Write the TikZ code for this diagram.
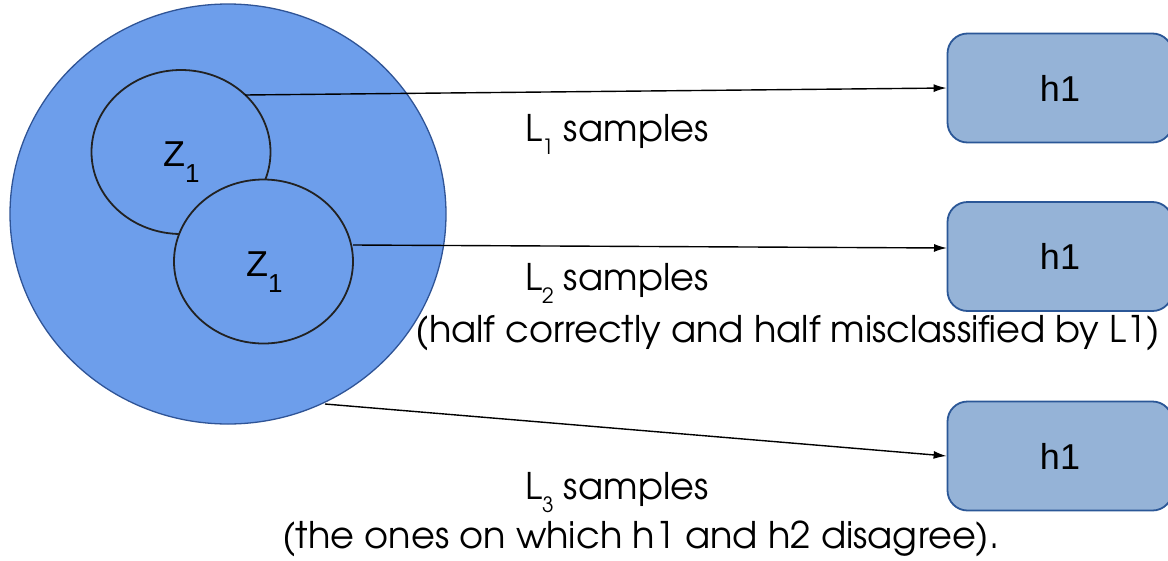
\documentclass[tikz,border=0pt]{standalone}
\usepackage{fontspec}
\setmainfont{Liberation Sans}
\newfontfamily\gothicfont{texgyreadventor-regular.otf}
\usetikzlibrary{arrows.meta,shapes.geometric}
\definecolor{circfill}{HTML}{6D9EEB}
\definecolor{circborder}{HTML}{2F5496}
\definecolor{zline}{HTML}{222222}
\definecolor{boxfill}{HTML}{95B3D7}
\definecolor{boxborder}{HTML}{2B5797}
\newcommand\lsub[1]{\raisebox{-13pt}{\fontsize{21}{21}\selectfont #1}}
\begin{document}
\begin{tikzpicture}[x=1pt,y=-1pt,
  bigcirc/.style={ellipse, draw=circborder, fill=circfill, line width=1.3pt, minimum width=436pt, minimum height=420pt, inner sep=0pt},
  zell/.style={ellipse, draw=zline, fill=circfill, line width=1.8pt, minimum width=179pt, minimum height=164pt, inner sep=0pt},
  hbox/.style={rectangle, rounded corners=20pt, draw=boxborder, fill=boxfill, line width=1.8pt, minimum width=225pt, minimum height=109pt, inner sep=0pt, font=\fontsize{36}{40}\selectfont},
  arr/.style={-{Latex[length=13pt,width=8pt]}, line width=1.4pt},
  lab/.style={font=\gothicfont\fontsize{36.7}{40}\selectfont, inner sep=0pt},
  zlab/.style={font=\fontsize{36}{40}\selectfont, inner sep=0pt}]
\useasboundingbox (0,0) rectangle (1168,560);
\node[bigcirc] (big) at (228,214) {};
\node[zell] (za) at (181,152) {};
\node[zell] (zb) at (263.5,261.5) {};
\node[zlab, anchor=base west] (zta) at (163,166) {Z\raisebox{-16pt}{\fontsize{26}{26}\selectfont 1}};
\node[zlab, anchor=base west] (ztb) at (246,276) {Z\raisebox{-16pt}{\fontsize{26}{26}\selectfont 1}};
\node[hbox] (ha) at (1060,88) {h1};
\node[hbox] (hb) at (1060,256.5) {h1};
\node[hbox] (hc) at (1060,456) {h1};
\coordinate (s1) at (245,95);
\coordinate (s2) at (353,245);
\coordinate (e2) at (947,248);
\coordinate (s3) at (325,404);
\draw[arr] (s1) -- (ha.west);
\draw[arr] (s2) -- (e2);
\draw[arr] (s3) -- (hc.west);
\node[lab, anchor=base west] (la) at (525,141) {L\lsub{1} samples};
\node[lab, anchor=base west] (lb) at (525,290) {L\lsub{2} samples};
\node[lab, anchor=base] (lbx) at (788,342) {(half correctly and half misclassified by L1)};
\node[lab, anchor=base west] (lc) at (525,499) {L\lsub{3} samples};
\node[lab, anchor=base] (lcx) at (641,548) {(the ones on which h1 and h2 disagree).};
\end{tikzpicture}
\end{document}
